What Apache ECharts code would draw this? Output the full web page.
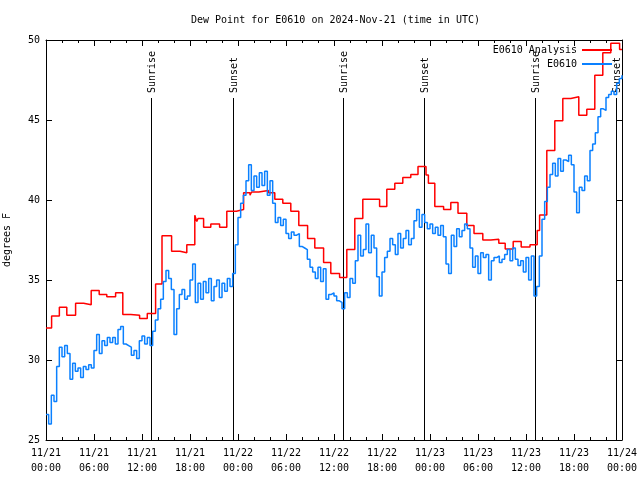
<!DOCTYPE html>
<html><head><meta charset="utf-8">
<script src="https://cdn.jsdelivr.net/npm/echarts@6/dist/echarts.min.js"></script>
<style>html,body{margin:0;padding:0;background:#fff}#c{width:640px;height:480px}</style>
</head><body><div id="c"></div>
<script>
const FONT = '"DejaVu Sans Mono", monospace';
const titleText = 'Dew Point for E0610 on 2024-Nov-21 (time in UTC)';
const yAxisName = 'degrees F';
const tickDates = ['11/21','11/21','11/21','11/21','11/22','11/22','11/22','11/22','11/23','11/23','11/23','11/23','11/24'];
const tickTimes = ['00:00','06:00','12:00','18:00','00:00','06:00','12:00','18:00','00:00','06:00','12:00','18:00','00:00'];
const eventTimes = [13.15, 23.35, 37.15, 47.25, 61.15, 71.25];
const eventLabels = ['Sunrise','Sunset','Sunrise','Sunset','Sunrise','Sunset'];
const seriesNames = ['E0610 Analysis', 'E0610'];

// Analysis: [hours since 11/21 00:00, degF] (step values)
const analysisData = [
 [0,32.0],[0.7,32.75],[1.67,33.3],[2.6,32.8],[3.7,33.55],[4.7,33.45],[5.65,34.35],[6.65,34.1],
 [7.6,33.95],[8.7,34.2],[9.6,32.85],[10.6,32.8],[11.7,32.6],[12.66,32.9],[13.7,34.75],[14.5,37.77],
 [15.7,36.8],[16.75,36.7],[17.6,37.2],[18.6,39.05],[18.85,38.65],[19.0,38.85],[19.7,38.3],[20.6,38.5],
 [21.7,38.3],[22.6,39.3],[23.8,39.4],[24.7,40.45],[25.5,40.3],[25.7,40.5],[26.6,40.6],[27.8,40.46],
 [28.6,40.04],[29.6,39.8],[30.6,39.3],[31.6,38.4],[32.7,37.6],[33.6,37.0],[34.7,36.1],[35.6,35.4],
 [36.7,35.15],[37.6,36.9],[38.6,38.85],[39.6,40.04],[40.6,40.04],[41.7,39.6],[42.6,40.67],[43.6,41.04],
 [44.6,41.4],[45.6,41.6],[46.5,42.1],[47.5,41.56],[47.8,41.04],[48.6,39.6],[49.7,39.4],[50.6,39.85],
 [51.5,39.17],[52.6,38.4],[53.5,37.9],[54.6,37.5],[55.6,37.54],[56.6,37.3],[57.4,36.94],[58.4,37.4],
 [59.4,37.06],[60.5,37.2],[61.4,38.1],[61.7,39.06],[62.6,43.1],[63.6,44.96],[64.6,46.35],[65.6,46.45],
 [66.6,45.3],[67.6,45.67],[68.6,47.8],[69.6,49.2],[70.6,49.8],[71.7,49.4],[72,49.4]
];

// Observations every 20 minutes starting 11/21 00:00 (degF)
const obsStepHours = 1/3;
const obsValues = [
 26.6,26.0,27.8, 27.4,29.6,30.8, 30.2,30.9,30.4, 28.8,29.8,29.3, 29.5,28.9,29.6, 29.4,29.7,29.5,
 30.6,31.6,30.4, 31.2,30.9,31.4, 31.1,31.4,31.0, 31.9,32.1,31.0, 30.9,30.8,30.3, 30.6,30.1,31.2,
 31.5,31.0,31.4, 30.9,31.8,32.5, 33.2,33.8,34.9, 35.6,35.1,34.4, 31.6,33.2,34.1, 34.4,33.8,34.0,
 35.0,36.0,33.6, 34.8,33.8,34.9, 34.2,35.1,33.7, 34.6,35.0,33.9, 34.8,34.3,35.1, 34.6,35.4,37.2,
 38.9,39.8,40.3, 41.2,42.2,40.6, 41.5,40.8,41.7, 40.9,41.8,40.3, 41.2,39.8,38.6, 38.9,38.4,38.8,
 37.9,37.6,38.0, 37.8,37.9,37.1, 37.0,36.9,36.3, 35.8,35.5,35.1, 35.8,34.9,35.7, 33.8,34.1,34.2,
 34.0,33.7,33.6, 33.2,34.2,33.9, 35.1,34.8,36.2, 37.8,36.5,36.9, 38.5,36.7,37.8, 37.0,35.2,34.0,
 35.5,36.4,36.8, 37.6,37.2,36.6, 37.9,37.0,37.6, 38.1,37.2,37.6, 38.7,39.4,38.3, 39.1,38.6,38.2,
 38.5,37.9,38.3, 37.8,38.4,37.7, 36.0,35.4,37.8, 37.1,38.2,37.7, 38.1,38.5,38.2, 37.0,35.8,36.5,
 35.4,36.7,36.4, 36.6,35.0,36.2, 36.4,36.5,36.1, 36.3,36.6,36.9, 36.2,37.0,36.3, 35.9,36.2,35.5,
 36.4,35.0,36.5, 34.0,34.6,36.5, 38.8,39.9,40.8, 41.6,42.3,41.5, 42.6,41.8,42.5, 42.4,42.8,42.2,
 40.5,39.2,40.8, 40.6,41.5,41.2, 43.1,43.5,44.2, 45.2,45.7,45.6, 46.4,46.6,46.8, 46.6,47.3,47.6,
 47.8
];

const txt = { color:'#000', fontFamily: FONT, fontSize: 10 };
const axisCommonX = {
  type:'value', min:0, max:72, interval:6,
  axisLine:{show:true, onZero:false, lineStyle:{color:'#000', width:1}},
  axisTick:{show:true, inside:true, length:6, lineStyle:{color:'#000'}},
  minorTick:{show:true, splitNumber:3, length:3, lineStyle:{color:'#000'}},
  splitLine:{show:false}, minorSplitLine:{show:false}
};
const axisCommonY = {
  type:'value', min:25, max:50, interval:5,
  axisLine:{show:true, onZero:false, lineStyle:{color:'#000', width:1}},
  axisTick:{show:true, inside:true, length:6, lineStyle:{color:'#000'}},
  splitLine:{show:false}
};

const chart = echarts.init(document.getElementById('c'), null, {renderer:'canvas'});
chart.setOption({
  backgroundColor:'#fff',
  animation:false,
  title:{ text: titleText, left: 186, top: 10, textStyle:{...txt, fontWeight:'normal'} },
  grid:{ left:46, right:18, top:40, bottom:40, containLabel:false, outerBoundsMode:'none' },
  legend:[
    { data:[seriesNames[0]], right:28, top:45, padding:0, align:'right', icon:'rect', itemWidth:30, itemHeight:2, selectedMode:false, textStyle:{...txt} },
    { data:[seriesNames[1]], right:28, top:59, padding:0, align:'right', icon:'rect', itemWidth:30, itemHeight:2, selectedMode:false, textStyle:{...txt} }
  ],
  xAxis:[
    { ...axisCommonX, position:'bottom',
      axisLabel:{ ...txt, margin:6, lineHeight:15, formatter: v => { const i = Math.round(v/6); return tickDates[i] + '\n' + tickTimes[i]; } } },
    { ...axisCommonX, position:'top', axisLabel:{show:false} }
  ],
  yAxis:[
    { ...axisCommonY, position:'left', name: yAxisName, nameLocation:'middle', nameGap:34, nameRotate:90,
      nameTextStyle:{...txt}, axisLabel:{ ...txt, margin:6 } },
    { ...axisCommonY, position:'right', axisLabel:{show:false} }
  ],
  series:[
    { type:'custom', name:'events', coordinateSystem:'cartesian2d', xAxisIndex:0, yAxisIndex:0,
      data: eventTimes.map(t => [t, 25]), encode:{x:0, y:1}, clip:false, silent:true, z:1,
      renderItem:(params, api) => {
        const t = api.value(0);
        const pb = api.coord([t, 25]);
        const pt = api.coord([t, 50]);
        const x = Math.round(pb[0]) + 0.5;
        const top = pt[1] + 58;
        return { type:'group', children:[
          { type:'line', shape:{x1:x, y1:pb[1], x2:x, y2:top}, style:{stroke:'#000', lineWidth:1} },
          { type:'text', x:x + 0.5, y: top - 5, rotation: Math.PI/2,
            style:{ text: eventLabels[params.dataIndex], font:'10px "DejaVu Sans Mono", monospace', fill:'#000', align:'left', verticalAlign:'middle' } }
        ]};
      }
    },
    { type:'line', name: seriesNames[0], data: analysisData, step:'end', symbol:'none', showSymbol:false,
      color:'#ff0000', lineStyle:{color:'#ff0000', width:1.5}, z:3 },
    { type:'line', name: seriesNames[1], data: obsValues.map((v,i) => [i*obsStepHours, v]), step:'end', symbol:'none', showSymbol:false,
      color:'#0a80ff', lineStyle:{color:'#0a80ff', width:1.5}, z:4 }
  ]
});
</script></body></html>
